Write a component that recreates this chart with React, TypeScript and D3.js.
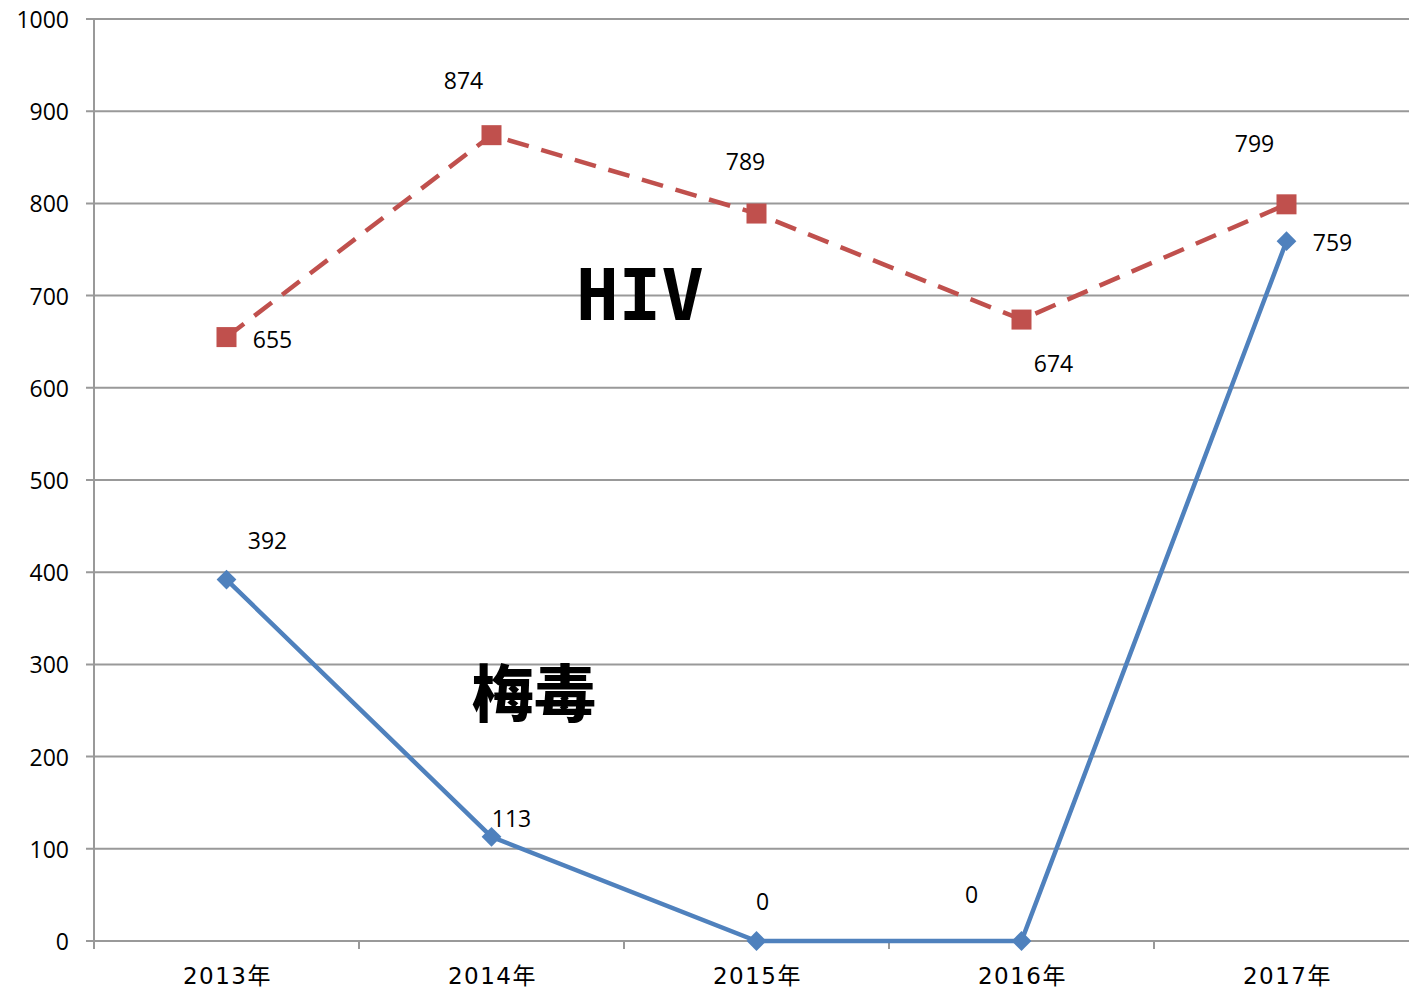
import React from "react";
import * as d3 from "d3";

const categories = ["2013年", "2014年", "2015年", "2016年", "2017年"];
const hivValues = [655, 874, 789, 674, 799];
const syphilisValues = [392, 113, 0, 0, 759];
const yTicks = [0, 100, 200, 300, 400, 500, 600, 700, 800, 900, 1000];

// label offsets (dx, dy) relative to each point
const hivLabelOffsets: [number, number][] = [[46, 2], [-28, -55], [-11, -53], [32, 43], [-32, -61]];
const synLabelOffsets: [number, number][] = [[41, -40], [20, -19], [6, -40], [-50, -47], [46, 1]];

const W = 1409;
const H = 992;
const left = 94;
const top = 19;
const bottom = 941;
const band = 265;

export default function App() {
  const x = d3
    .scaleBand<string>()
    .domain(categories)
    .range([left, left + band * categories.length]);
  const y = d3.scaleLinear().domain([0, 1000]).range([bottom, top]);
  const cx = (c: string) => (x(c) as number) + x.bandwidth() / 2;
  const line = d3
    .line<number>()
    .x((_, i) => cx(categories[i]))
    .y((d) => y(d));

  const grid = "#999999";
  const red = "#C0504D";
  const blue = "#4F81BD";
  const labelFont = "'Open Sans', 'Noto Sans', sans-serif";

  return (
    <svg width={W} height={H} style={{ position: "absolute", left: 0, top: 0, background: "#fff" }}>
      {yTicks.map((t) => (
        <g key={t}>
          <line x1={86} x2={W} y1={y(t)} y2={y(t)} stroke={grid} strokeWidth={2} />
          <text
            x={69}
            y={y(t)}
            textAnchor="end"
            dominantBaseline="central"
            fontFamily={labelFont}
            fontSize={23}
            fill="#000"
          >
            {t}
          </text>
        </g>
      ))}
      <line x1={left} x2={left} y1={top} y2={bottom + 8} stroke={grid} strokeWidth={2} />
      {categories.map((c) => (
        <g key={c}>
          <line
            x1={(x(c) as number) + band}
            x2={(x(c) as number) + band}
            y1={bottom}
            y2={bottom + 8}
            stroke={grid}
            strokeWidth={2}
          />
          <text
            x={cx(c) + 1}
            y={984}
            textAnchor="middle"
            fontFamily="'DejaVu Sans', 'Noto Sans CJK JP', sans-serif"
            fontSize={23}
            letterSpacing={1.5}
            fill="#000"
          >
            {c}
          </text>
        </g>
      ))}

      <path d={line(hivValues) || ""} fill="none" stroke={red} strokeWidth={4.5} strokeDasharray="22 13" />
      <path d={line(syphilisValues) || ""} fill="none" stroke={blue} strokeWidth={4.5} />

      {hivValues.map((v, i) => (
        <rect key={i} x={cx(categories[i]) - 10} y={y(v) - 10} width={20} height={20} fill={red} />
      ))}
      {syphilisValues.map((v, i) => (
        <rect
          key={i}
          x={-7}
          y={-7}
          width={14}
          height={14}
          fill={blue}
          transform={`translate(${cx(categories[i])},${y(v)}) rotate(45)`}
        />
      ))}

      {hivValues.map((v, i) => (
        <text
          key={i}
          x={cx(categories[i]) + hivLabelOffsets[i][0]}
          y={y(v) + hivLabelOffsets[i][1]}
          textAnchor="middle"
          dominantBaseline="central"
          fontFamily={labelFont}
          fontSize={23}
          fill="#000"
        >
          {v}
        </text>
      ))}
      {syphilisValues.map((v, i) => (
        <text
          key={i}
          x={cx(categories[i]) + synLabelOffsets[i][0]}
          y={y(v) + synLabelOffsets[i][1]}
          textAnchor="middle"
          dominantBaseline="central"
          fontFamily={labelFont}
          fontSize={23}
          fill="#000"
        >
          {v}
        </text>
      ))}

      <text
        x={640}
        y={320}
        textAnchor="middle"
        fontFamily="'DejaVu Sans Mono', monospace"
        fontWeight="bold"
        fontSize={71}
        fill="#000"
      >
        HIV
      </text>
      <text
        x={534}
        y={690}
        textAnchor="middle"
        dominantBaseline="central"
        fontFamily="'Noto Sans CJK SC', sans-serif"
        fontWeight={900}
        fontSize={62}
        fill="#000"
      >
        梅毒
      </text>
    </svg>
  );
}
